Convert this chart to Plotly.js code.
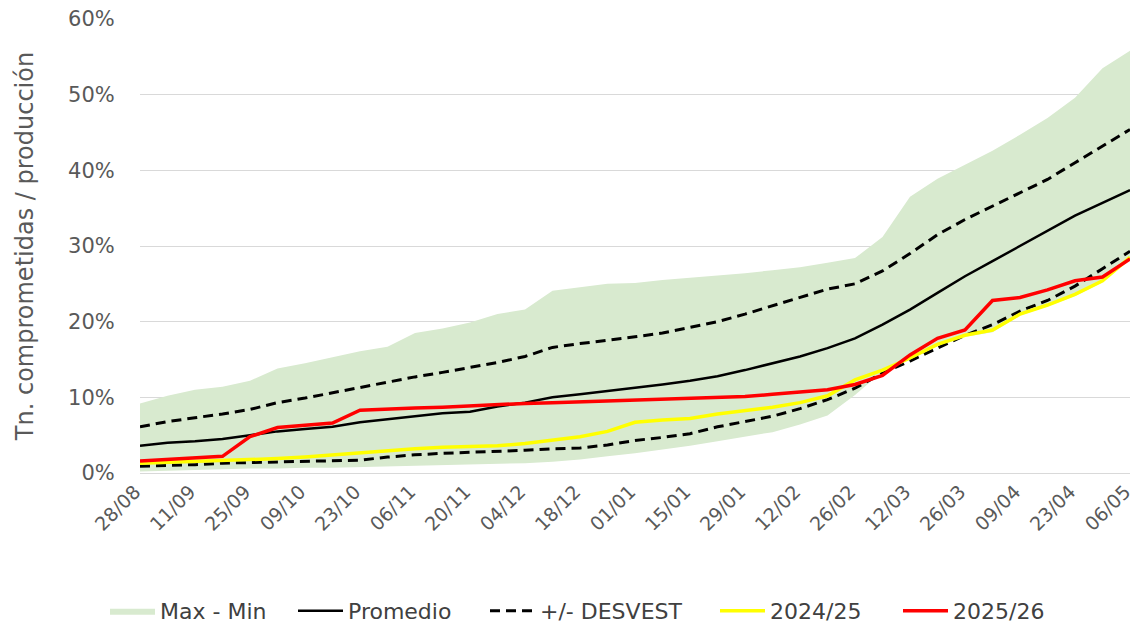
<!DOCTYPE html>
<html>
<head>
<meta charset="utf-8">
<script src="https://cdn.plot.ly/plotly-3.0.1.min.js"></script>
<style>
  html, body { margin: 0; padding: 0; background: #ffffff; }
  #chart { width: 1138px; height: 626px; }
</style>
</head>
<body>
<div id="chart"></div>
<script>
const categories = ['28/08','04/09','11/09','18/09','25/09','02/10','09/10','16/10','23/10','30/10',
  '06/11','13/11','20/11','27/11','04/12','11/12','18/12','25/12','01/01','08/01',
  '15/01','22/01','29/01','05/02','12/02','19/02','26/02','05/03','12/03','19/03',
  '26/03','02/04','09/04','16/04','23/04','30/04','06/05'];

const tickLabels = ['28/08','11/09','25/09','09/10','23/10','06/11','20/11','04/12','18/12','01/01',
  '15/01','29/01','12/02','26/02','12/03','26/03','09/04','23/04','06/05'];

const yTickValues = [0, 10, 20, 30, 40, 50, 60];
const yTickLabels = ['0%', '10%', '20%', '30%', '40%', '50%', '60%'];

const maxValues = [9.2,10.2,11.0,11.4,12.2,13.8,14.5,15.3,16.1,16.7,18.5,19.1,19.9,21.0,21.6,24.1,24.6,25.0,25.1,25.5,
  25.8,26.1,26.4,26.8,27.2,27.8,28.4,31.2,36.5,38.9,40.7,42.6,44.7,46.9,49.6,53.5,55.8];

const minValues = [0.2,0.3,0.4,0.5,0.6,0.6,0.7,0.7,0.8,0.9,0.9,1.0,1.1,1.2,1.3,1.5,1.8,2.2,2.6,3.1,
  3.6,4.2,4.8,5.4,6.4,7.6,10.3,13.4,15.0,16.8,18.0,18.6,20.8,22.0,23.4,25.2,28.4];

const promedio = [3.6,4.0,4.2,4.5,5.0,5.5,5.8,6.1,6.7,7.1,7.5,7.9,8.1,8.8,9.3,10.0,10.4,10.8,11.3,11.7,
  12.2,12.8,13.6,14.5,15.4,16.5,17.8,19.6,21.6,23.8,26.0,28.0,30.0,32.0,34.0,35.7,37.4];

const desvestUpper = [6.1,6.8,7.3,7.8,8.4,9.3,9.9,10.6,11.3,12.0,12.7,13.3,13.9,14.6,15.4,16.6,17.1,17.5,18.0,18.5,
  19.2,20.0,21.0,22.1,23.2,24.3,25.0,26.7,29.0,31.5,33.5,35.3,37.0,38.8,41.0,43.2,45.4];

const desvestLower = [0.9,1.0,1.1,1.3,1.4,1.4,1.5,1.6,1.7,2.1,2.4,2.6,2.7,2.9,3.0,3.2,3.3,3.7,4.3,4.7,
  5.2,6.1,6.8,7.5,8.5,9.7,11.2,13.2,14.8,16.5,18.2,19.6,21.4,22.8,24.7,27.0,29.3];

const season2425 = [1.3,1.4,1.5,1.6,1.7,1.9,2.1,2.4,2.7,3.0,3.2,3.4,3.5,3.6,3.9,4.4,4.8,5.5,6.7,7.0,
  7.2,7.8,8.2,8.7,9.3,10.2,12.3,13.6,15.2,17.0,18.2,18.9,21.0,22.2,23.6,25.4,28.5];

const season2526 = [1.6,1.8,2.0,2.2,4.8,6.0,6.3,6.6,8.3,8.5,8.6,8.7,8.9,9.0,9.2,9.3,9.4,9.5,9.6,9.7,
  9.8,9.9,10.1,10.4,10.7,11.0,11.7,12.9,15.6,17.8,18.9,22.8,23.2,24.2,25.4,25.9,28.3];

const FONT = 'DejaVu Sans, sans-serif';
const TXT = '#595959';
const dashPattern = '10px,6px';

const traces = [
  { x: categories, y: minValues, type: 'scatter', mode: 'lines',
    line: { width: 0, color: 'rgba(0,0,0,0)' }, showlegend: false, hoverinfo: 'skip' },
  { x: categories, y: maxValues, type: 'scatter', mode: 'lines', name: 'Max - Min', legend: 'legend',
    fill: 'tonexty', fillcolor: '#d8eacf', line: { width: 0, color: '#d8eacf' } },
  { x: categories, y: promedio, type: 'scatter', mode: 'lines', name: 'Promedio', legend: 'legend2',
    line: { color: '#000000', width: 2.5 } },
  { x: categories, y: desvestUpper, type: 'scatter', mode: 'lines', name: '+/- DESVEST', legend: 'legend3',
    legendgroup: 'desv', line: { color: '#000000', width: 3, dash: dashPattern } },
  { x: categories, y: desvestLower, type: 'scatter', mode: 'lines', name: '+/- DESVEST', legend: 'legend3',
    legendgroup: 'desv', showlegend: false, line: { color: '#000000', width: 3, dash: dashPattern } },
  { x: categories, y: season2425, type: 'scatter', mode: 'lines', name: '2024/25', legend: 'legend4',
    line: { color: '#ffff00', width: 3.5 } },
  { x: categories, y: season2526, type: 'scatter', mode: 'lines', name: '2025/26', legend: 'legend5',
    line: { color: '#ff0000', width: 3.5 } }
];

function legendAt(px) {
  return {
    orientation: 'h', xref: 'container', yref: 'container',
    x: px / 1138, xanchor: 'left', y: (626 - 611) / 626, yanchor: 'middle',
    itemwidth: 45, bgcolor: 'rgba(0,0,0,0)',
    font: { family: FONT, size: 22, color: '#404040' }
  };
}

const layout = {
  width: 1138, height: 626,
  margin: { l: 140, r: 8, t: 19, b: 153, autoexpand: false },
  paper_bgcolor: '#ffffff', plot_bgcolor: '#ffffff',
  font: { family: FONT, size: 20, color: TXT },
  showlegend: true,
  legend: legendAt(105),
  legend2: legendAt(293),
  legend3: legendAt(485),
  legend4: legendAt(715),
  legend5: legendAt(898),
  xaxis: {
    type: 'category', range: [0, categories.length - 1],
    tickmode: 'array', tickvals: tickLabels, ticktext: tickLabels,
    tickangle: -45, tickfont: { family: FONT, size: 19, color: TXT },
    ticklabelshift: -5, ticklabelstandoff: 3,
    showgrid: false, zeroline: false, showline: false, ticks: ''
  },
  yaxis: {
    range: [0, 60], tickmode: 'array', tickvals: yTickValues, ticktext: yTickLabels,
    tickfont: { family: FONT, size: 21, color: TXT },
    showgrid: true, gridcolor: '#d9d9d9', gridwidth: 1,
    zeroline: true, zerolinecolor: '#d9d9d9', zerolinewidth: 1,
    ticks: 'outside', ticklen: 20, tickcolor: 'rgba(0,0,0,0)',
    title: { text: 'Tn. comprometidas / producción', font: { family: FONT, size: 24, color: TXT }, standoff: 27 }
  }
};

Plotly.newPlot('chart', traces, layout, { displayModeBar: false, staticPlot: true });
</script>
</body>
</html>
